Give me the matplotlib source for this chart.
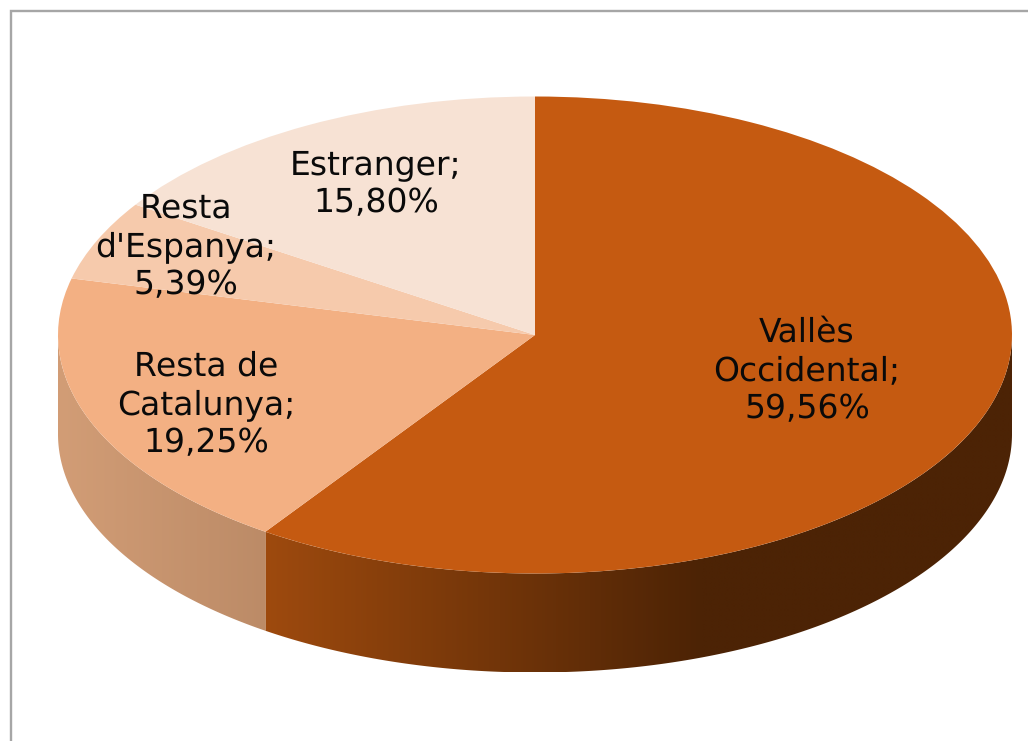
import numpy as np
import matplotlib
matplotlib.use("Agg")
import matplotlib.pyplot as plt
from matplotlib.colors import to_rgb
from matplotlib.patches import Rectangle, Polygon

plt.rcParams["text.hinting"] = "none"
plt.rcParams["text.hinting_factor"] = 1

categories = ["Vallès\nOccidental;", "Resta de\nCatalunya;", "Resta\nd'Espanya;", "Estranger;"]
values = [59.56, 19.25, 5.39, 15.80]
value_labels = ["59,56%", "19,25%", "5,39%", "15,80%"]
colors = ["#C55A11", "#F3B083", "#F6CAAC", "#F7E2D4"]
wall_left = ["#9E4A0E", "#D29D76", "#D29D76", "#F7E2D4"]
wall_right = ["#4C2305", "#BC8B67", "#BC8B67", "#F7E2D4"]
label_pos = [(807, 371), (206, 405), (186, 247), (376, 184)]

W, H = 1028, 741
CX, CY, RX, RY, DEPTH = 535.0, 335.0, 477.0, 238.5, 99.0

fig = plt.figure(figsize=(W / 100, H / 100), dpi=100, facecolor="white")
ax = fig.add_axes([0, 0, 1, 1])

ax.pie(values, colors=colors, startangle=90, counterclock=False, radius=1,
       center=(0, 0), wedgeprops=dict(linewidth=0), frame=True)
xlim = (-CX / RX, (W - CX) / RX)
ylim = ((CY - H) / RY, CY / RY)

depth = DEPTH / RY
start = 90.0
for val, cl, cr in zip(values, wall_left, wall_right):
    end = start - val * 3.6
    a0, a1 = max(end, -180.0), min(start, 0.0)
    start = end
    if a0 >= a1:
        continue
    t = np.radians(np.linspace(a0, a1, 300))
    xs, ys = np.cos(t), np.sin(t)
    verts = np.vstack([np.c_[xs, ys], np.c_[xs[::-1], ys[::-1] - depth]])
    x0, x1 = xs.min(), xs.max()
    # colour ramp left to right; the big slice goes flat past x ~ 0.35
    stop = 0.35 if cl == wall_left[0] else x1
    gx = np.linspace(x0, x1, 512)
    f = np.clip((gx - x0) / (stop - x0), 0, 1)[:, None]
    ramp = (1 - f) * np.array(to_rgb(cl)) + f * np.array(to_rgb(cr))
    im = ax.imshow(ramp[None, :, :], extent=(x0, x1, ys.min() - depth, ys.max()),
                   aspect="auto", zorder=0.5, interpolation="bilinear")
    im.set_clip_path(Polygon(verts, closed=True, transform=ax.transData))

ax.set_aspect("auto")
ax.set_xlim(*xlim)
ax.set_ylim(*ylim)
ax.axis("off")

for cat, val, (px, py) in zip(categories, value_labels, label_pos):
    ax.text((px - CX) / RX, (CY - py) / RY, f"{cat}\n{val}", ha="center", va="center",
            fontsize=24, family="DejaVu Sans", color="#0A0A0A", linespacing=1.26,
            zorder=5)

fig.add_artist(Rectangle((11 / W, -0.1), 1.2, 1 - 11 / H + 0.1, fill=False,
                         edgecolor="#A6A6A6", linewidth=1.7,
                         transform=fig.transFigure))
fig.savefig("out.png", dpi=100, facecolor="white")
